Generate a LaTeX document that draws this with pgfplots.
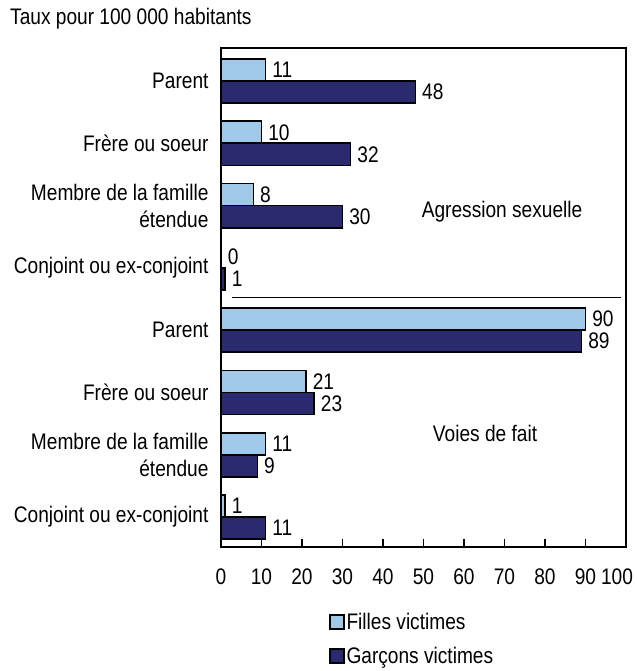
\documentclass[border=0pt]{standalone}
\usepackage{fontspec}
\setmainfont{Liberation Sans}[FakeStretch=0.85]
\usepackage{pgfplots}
\pgfplotsset{compat=1.18}
\definecolor{lightb}{RGB}{160,200,232}
\definecolor{darkb}{RGB}{42,42,110}
\pgfplotsset{mylegend/.style={legend image code/.code={\draw[##1] (0bp,-7bp) rectangle (14bp,7bp);}}}
\begin{document}
\begin{tikzpicture}[font=\fontsize{22.5bp}{27bp}\selectfont]
\begin{axis}[name=ax, scale only axis, width=405bp, height=499bp,
  xbar, y dir=reverse,
  xmin=0, xmax=100, ymin=-0.53, ymax=7.48,
  xtick={0,10,...,90}, xtick pos=left, tick align=inside, major tick length=8bp,
  extra x ticks={100},
  extra x tick style={xticklabel style={xshift=-9bp}},
  ytick={0,...,7},
  yticklabels={Parent, Frère ou soeur, {Membre de la famille\\étendue}, Conjoint ou ex-conjoint, Parent, Frère ou soeur, {Membre de la famille\\étendue}, Conjoint ou ex-conjoint},
  ytick style={draw=none},
  xtick style={line width=1.5bp, black},
  yticklabel style={align=right, xshift=-9bp},
  xticklabel style={yshift=-18bp},
  /pgf/number format/assume math mode=true,
  axis line style={line width=2bp},
  bar width=0.355,
  every axis plot post/.append style={mylegend},
  nodes near coords,
  nodes near coords style={anchor=west, inner sep=0pt, xshift=6bp, text=black},
  legend style={at={(0.266,-0.128)}, anchor=north west, draw=none, inner sep=0pt, row sep=12bp, cells={anchor=west}, font=\fontsize{22.5bp}{27bp}\selectfont},
  legend cell align=left,
  clip=false]
\addplot[fill=lightb, draw=black, line width=1.6bp, bar shift=-0.177] coordinates {(11,0) (10,1) (8,2) (0,3) (90,4) (21,5) (11,6) (1,7)};
\addplot[fill=darkb, draw=black, line width=1.6bp, bar shift=0.177] coordinates {(48,0) (32,1) (30,2) (1,3) (89,4) (23,5) (9,6) (11,7)};
\draw[line width=1.3bp] (axis cs:2.7,3.47) -- (axis cs:98.8,3.47);
\node at (axis cs:69.4,2.1) {Agression sexuelle};
\node at (axis cs:65.2,5.65) {Voies de fait};
\legend{Filles victimes, Garçons victimes}
\end{axis}
\node[anchor=base west, inner sep=0pt] at ([xshift=-211bp,yshift=23bp]ax.north west) {Taux pour 100 000 habitants};
\pgfresetboundingbox
\path[use as bounding box] ([xshift=-221bp,yshift=-124bp]ax.south west) rectangle ([xshift=11bp,yshift=48bp]ax.north east);
\end{tikzpicture}
\end{document}
